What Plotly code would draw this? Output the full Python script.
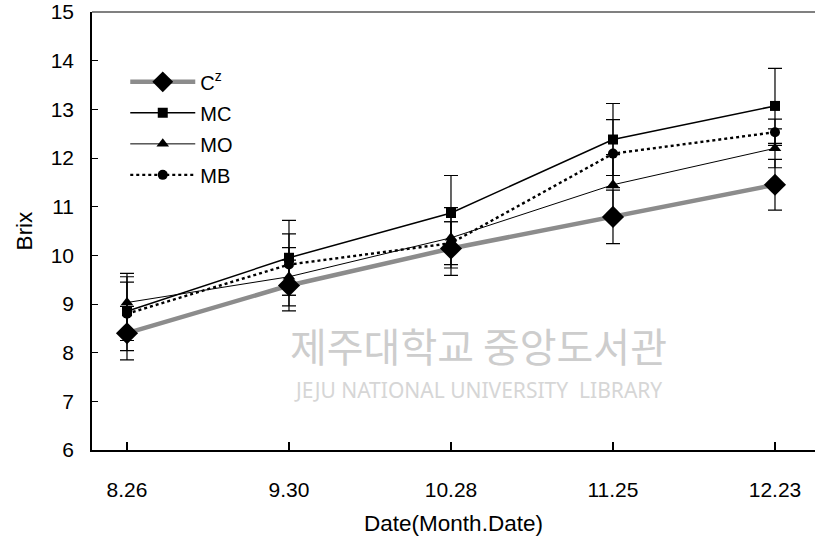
import plotly.graph_objects as go

dates = ["8.26", "9.30", "10.28", "11.25", "12.23"]

c_vals = [8.40, 9.38, 10.14, 10.79, 11.45]
c_err = [0.55, 0.52, 0.55, 0.55, 0.52]

mc_vals = [8.85, 9.95, 10.87, 12.38, 13.07]
mc_err = [0.60, 0.77, 0.77, 0.74, 0.77]

mo_vals = [9.03, 9.56, 10.36, 11.45, 12.20]
mo_err = [0.60, 0.60, 0.62, 0.62, 0.40]

mb_vals = [8.80, 9.81, 10.25, 12.09, 12.53]
mb_err = [0.76, 0.63, 0.44, 0.70, 0.27]

xi = list(range(len(dates)))

fig = go.Figure()

def err(e):
    return dict(type="data", array=e, visible=True, color="black", thickness=1.2, width=7)

fig.add_trace(go.Scatter(
    x=xi, y=c_vals, name="C<sup>z</sup>", mode="lines+markers", legendgroup="c",
    line=dict(color="#8c8c8c", width=4.5),
    marker=dict(symbol="diamond", size=17, color="black"),
    error_y=err(c_err)))
fig.add_trace(go.Scatter(
    x=xi, y=mc_vals, name="MC", mode="lines+markers", legendgroup="mc",
    line=dict(color="black", width=1.5),
    marker=dict(symbol="square", size=10, color="black"),
    error_y=err(mc_err)))
fig.add_trace(go.Scatter(
    x=xi, y=mo_vals, name="MO", mode="lines+markers", legendgroup="mo",
    line=dict(color="black", width=1),
    marker=dict(symbol="triangle-up", size=11, color="black"),
    error_y=err(mo_err)))
fig.add_trace(go.Scatter(
    x=xi, y=mb_vals, name="MB", mode="lines+markers", legendgroup="mb",
    line=dict(color="black", width=2.4, dash="dot"),
    marker=dict(symbol="circle", size=10, color="black"),
    error_y=err(mb_err)))

font = "Liberation Sans, Arial, sans-serif"

fig.update_layout(
    width=815, height=543,
    margin=dict(l=92, r=0, t=12, b=93, autoexpand=False),
    paper_bgcolor="white", plot_bgcolor="white",
    font=dict(family=font, size=21, color="black"),
    showlegend=True,
    legend=dict(x=0.046, y=0.885, xanchor="left", yanchor="top",
                bgcolor="rgba(0,0,0,0)", font=dict(size=20), tracegroupgap=2,
                itemwidth=65),
    xaxis=dict(
        tickmode="array", tickvals=xi, ticktext=dates,
        range=[-0.216, 4.247], showgrid=False, zeroline=False,
        showline=True, linecolor="black", linewidth=2,
        ticks="inside", ticklen=8, tickcolor="black", tickwidth=1.5,
        ticklabelstandoff=20, automargin=False,
        title=dict(text="Date(Month.Date)", font=dict(size=22.5), standoff=15),
        tickfont=dict(size=21),
    ),
    yaxis=dict(
        range=[6, 15], dtick=1, showgrid=False, zeroline=False,
        showline=True, linecolor="black", linewidth=1.5,
        ticks="inside", ticklen=6, tickcolor="black", tickwidth=1,
        ticklabelstandoff=12, automargin=False,
        title=dict(text="Brix", font=dict(size=22.5), standoff=12),
        tickfont=dict(size=21),
    ),
    shapes=[dict(type="line", xref="paper", yref="paper", x0=0, x1=1, y0=1, y1=1,
                 line=dict(color="#808080", width=2))],
    annotations=[
        dict(text="제주대학교 중앙도서관", xref="paper", yref="paper",
             x=0.534, y=0.24, xanchor="center", yanchor="middle", showarrow=False,
             font=dict(family="Noto Sans CJK KR", size=40, color="#cdcdcd")),
        dict(text="JEJU NATIONAL UNIVERSITY  LIBRARY", xref="paper", yref="paper",
             x=0.534, y=0.137, xanchor="center", yanchor="middle", showarrow=False,
             font=dict(family="Noto Sans", size=21, color="#d6d6d6")),
    ],
)

fig.write_html("out.html",
               config={"displayModeBar": False},
               post_script="document.body.style.margin='0';document.body.style.overflow='hidden';")
